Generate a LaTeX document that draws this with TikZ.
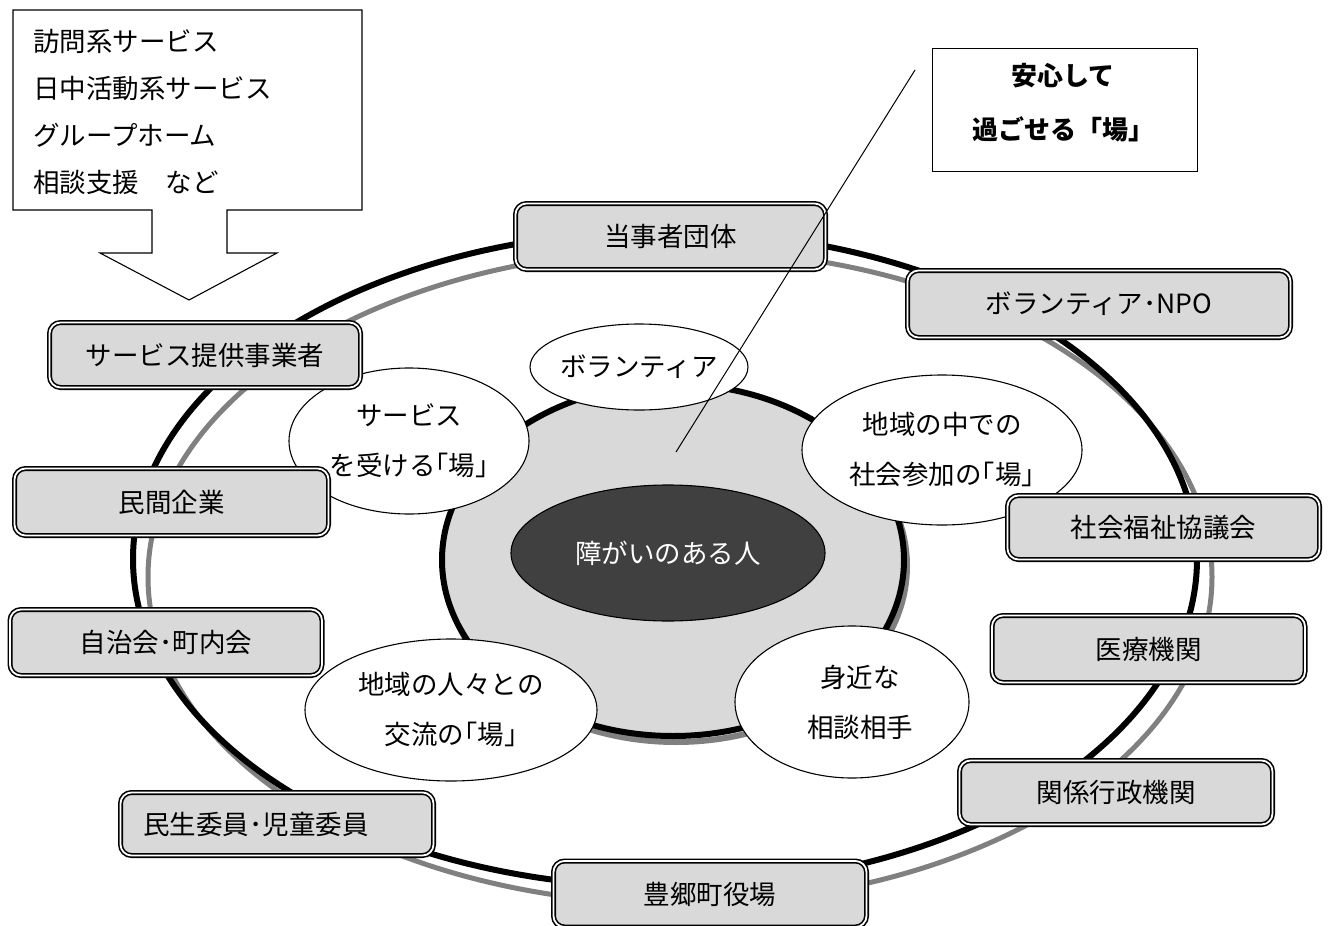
\documentclass[tikz,border=0pt]{standalone}
\usepackage{fontspec}
\setmainfont{Noto Sans CJK JP}
\usetikzlibrary{shapes.geometric}
\definecolor{boxgray}{HTML}{D9D9D9}
\definecolor{ringgray}{HTML}{808080}
\definecolor{coredark}{HTML}{404040}
\begin{document}
\begin{tikzpicture}[x=1pt,y=-1pt,
  every node/.style={font=\fontsize{26.5}{50}\selectfont, inner sep=0pt},
  orgbox/.style={draw=black, double=white, double distance=1.8pt, line width=1.6pt,
    fill=boxgray, rounded corners=11pt},
  bubble/.style={ellipse, draw=black, line width=1.1pt, fill=white, align=center, inner sep=-25pt},
  thinbox/.style={draw=black, line width=1.1pt, fill=white}]
\useasboundingbox (0,0) rectangle (1328,926);

% outer ring with grey shadow
\draw[ringgray, line width=5pt] (680,577) ellipse [x radius=532, y radius=327];
\draw[black, line width=6pt] (665,559) ellipse [x radius=532, y radius=328];

% inner disk
\draw[ringgray, line width=6pt] (676,566) ellipse [x radius=231, y radius=176];
\draw[black, line width=6pt, fill=boxgray] (673,560) ellipse [x radius=231, y radius=176];

% centre
\node[ellipse, draw=black, line width=1.1pt, fill=coredark, text=white, inner sep=-20pt,
  minimum width=314, minimum height=136] (core) at (668,553) {障がいのある人};

% bubbles
\node[bubble, minimum width=218, minimum height=86] (vol) at (639,367) {ボランティア};
\node[bubble, minimum width=240, minimum height=146] (svc) at (409,441) {サービス\\を受ける｢場｣};
\node[bubble, minimum width=280, minimum height=150] (soc) at (942,450) {地域の中での\\社会参加の｢場｣};
\node[bubble, minimum width=292, minimum height=142] (exch) at (451,710) {地域の人々との\\交流の｢場｣};
\node[bubble, minimum width=234, minimum height=152] (cons) at (852,702) {\hspace*{16pt}身近な\\\hspace*{16pt}相談相手};

% organisation boxes
\node[orgbox, minimum width=310, minimum height=66] (b1) at (670.5,236.5) {当事者団体};
\node[orgbox, minimum width=383, minimum height=67] (b2) at (1099,304) {ボランティア･NPO};
\node[orgbox, minimum width=311, minimum height=65] (b3) at (205,355) {サービス提供事業者};
\node[orgbox, minimum width=314, minimum height=67] (b4) at (171.5,502) {民間企業};
\node[orgbox, minimum width=312, minimum height=64] (b5) at (1163.5,527.5) {社会福祉協議会};
\node[orgbox, minimum width=312, minimum height=66] (b6) at (166,642.5) {自治会･町内会};
\node[orgbox, minimum width=313, minimum height=67] (b7) at (1148.5,649) {医療機関};
\node[orgbox, minimum width=313, minimum height=64] (b8) at (1116,792.5) {関係行政機関};
\node[orgbox, minimum width=313, minimum height=63] (b9) at (277,824) {民生委員･児童委員\hspace*{42pt}};
\node[orgbox, minimum width=313, minimum height=66] (b10) at (710,894) {豊郷町役場};

% services box with block arrow
\draw[thinbox] (13,10) -- (362,10) -- (362,210) -- (227,210) -- (227,253) -- (277,253)
  -- (189,300) -- (100,253) -- (152,253) -- (152,210) -- (13,210) -- cycle;
\node[anchor=west, align=left, font=\fontsize{26.5}{47}\selectfont] (list) at (33,112)
  {訪問系サービス\\日中活動系サービス\\グループホーム\\相談支援　など};

% callout
\node[thinbox, minimum width=265, minimum height=123] (callout) at (1065,110) {};
\node[align=center, font=\fontsize{26}{54}\selectfont\bfseries] (callouttext) at (1063,103)
  {安心して\\過ごせる「場」};
\coordinate (cA) at (915,70);
\coordinate (cB) at (676,452);
\draw[line width=1pt] (cA) -- (cB);
\end{tikzpicture}
\end{document}
